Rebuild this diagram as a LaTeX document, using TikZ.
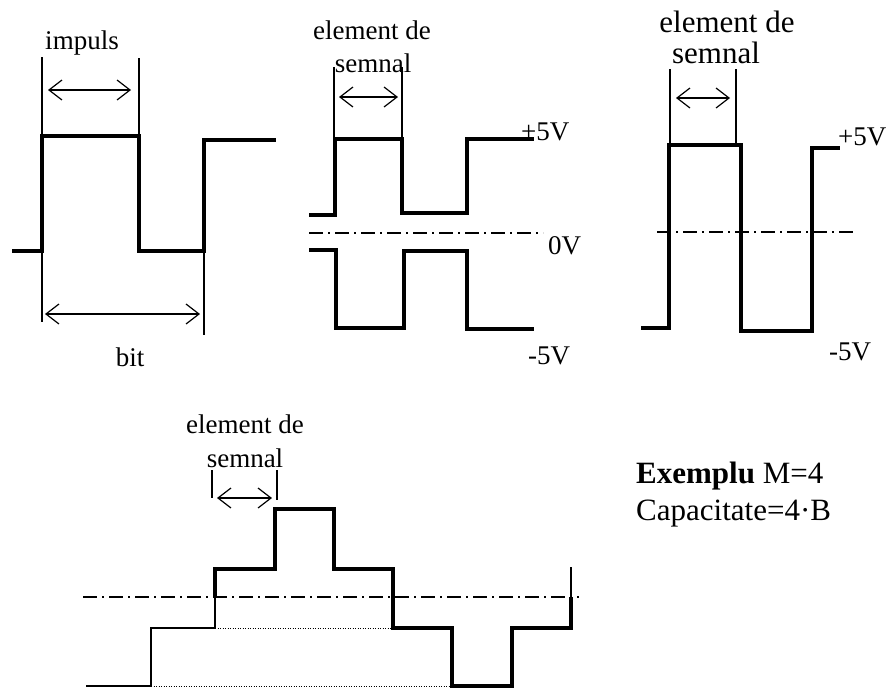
\documentclass[tikz,border=0pt]{standalone}
\usepackage{fontspec}
\setmainfont{Liberation Serif}
\usetikzlibrary{arrows.meta}
\begin{document}
\begin{tikzpicture}[x=1pt,y=-1pt,
  wave/.style={line width=3.3pt, line join=miter},
  guide/.style={line width=1.2pt},
  thinwave/.style={line width=1.4pt},
  dim/.style={line width=1.2pt, {Straight Barb[length=13pt,width=20pt]}-{Straight Barb[length=13pt,width=20pt]}},
  axis/.style={line width=1.3pt, dash pattern=on 14pt off 5pt on 2pt off 5pt},
  dots/.style={line width=0.8pt, dash pattern=on 1pt off 1.5pt},
  lbl/.style={inner sep=0pt, anchor=base, font=\fontsize{27}{30}\selectfont},
  lblbig/.style={inner sep=0pt, anchor=base, font=\fontsize{31}{34}\selectfont}]
\useasboundingbox (0,0) rectangle (893,689);

% ---------- panel 1 ----------
\draw[wave] (12,251) -- (42,251) -- (42,136) -- (139,136) -- (139,251) -- (204,251) -- (204,140) -- (276,140);
\draw[guide] (42,57) -- (42,322);
\draw[guide] (139,58) -- (139,136);
\draw[guide] (204,251) -- (204,335);
\coordinate (i1) at (48,90); \coordinate (i2) at (131,90);
\coordinate (b1) at (45,314); \coordinate (b2) at (200,314);
\draw[dim] (i1) -- (i2);
\draw[dim] (b1) -- (b2);
\node[lbl] (impuls) at (82,49) {impuls};
\node[lbl] (bit) at (130,366) {bit};

% ---------- panel 2 ----------
\draw[wave] (309,215) -- (335,215) -- (335,139) -- (402,139) -- (402,213) -- (467,213) -- (467,139) -- (534,139);
\draw[axis] (309,233) -- (543,233);
\draw[wave] (309,250) -- (336,250) -- (336,328) -- (404,328) -- (404,251) -- (467,251) -- (467,329) -- (534,329);
\draw[guide] (334,67) -- (334,139);
\draw[guide] (402,67) -- (402,139);
\coordinate (e1) at (339,97); \coordinate (e2) at (398,97);
\draw[dim] (e1) -- (e2);
\node[lbl] (el2a) at (372,39) {element de};
\node[lbl] (el2b) at (373,72) {semnal};
\node[lbl, anchor=base west] (p5a) at (521,140) {+5V};
\node[lbl, anchor=base west] (z0) at (548,254) {0V};
\node[lbl, anchor=base west] (m5a) at (528,364) {-5V};

% ---------- panel 3 ----------
\draw[wave] (641,328) -- (669,328) -- (669,145) -- (741,145) -- (741,331) -- (812,331) -- (812,148) -- (840,148);
\draw[axis] (657,232) -- (853,232);
\draw[guide] (670,69) -- (670,145);
\draw[guide] (736,69) -- (736,145);
\coordinate (f1) at (676,98); \coordinate (f2) at (730,98);
\draw[dim] (f1) -- (f2);
\node[lblbig] (el3a) at (727,32) {element de};
\node[lblbig] (el3b) at (716,63) {semnal};
\node[lbl, anchor=base west] (p5b) at (838,145) {+5V};
\node[lbl, anchor=base west] (m5b) at (829,360) {-5V};

% ---------- panel 4 ----------
\draw[axis] (83,597) -- (579,597);
\draw[dots] (215,628) -- (393,628);
\draw[dots] (151,686) -- (452,686);
\draw[thinwave] (86,686) -- (151,686) -- (151,628) -- (215,628) -- (215,597);
\draw[wave] (215,597) -- (215,569) -- (275,569) -- (275,509) -- (334,509) -- (334,569) -- (393,569) -- (393,628) -- (452,628) -- (452,686) -- (512,686) -- (512,628) -- (571,628) -- (571,597);
\draw[guide] (571,599) -- (571,567);
\draw[guide] (212,470) -- (212,498);
\draw[guide] (277,470) -- (277,500);
\coordinate (g1) at (217,498); \coordinate (g2) at (272,498);
\draw[dim] (g1) -- (g2);
\node[lbl] (el4a) at (245,433) {element de};
\node[lbl] (el4b) at (245,467) {semnal};

% ---------- example text ----------
\node[lblbig, anchor=base west] (ex) at (636,483) {\textbf{Exemplu} M=4};
\node[lblbig, anchor=base west] (cap) at (636,520) {Capacitate=4·B};
\end{tikzpicture}
\end{document}
